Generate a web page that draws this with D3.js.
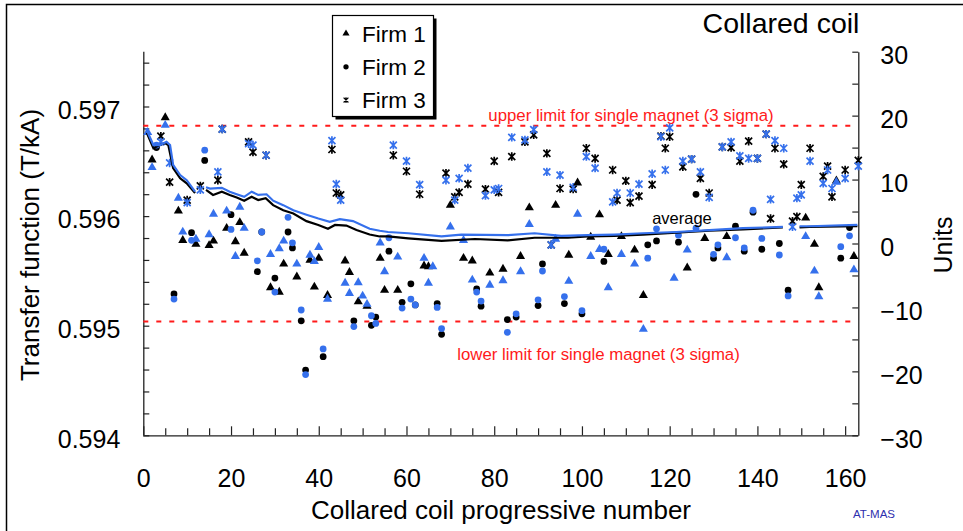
<!DOCTYPE html>
<html><head><meta charset="utf-8">
<script src="https://cdn.jsdelivr.net/npm/d3@7"></script>
<style>
body{margin:0;background:#fff;}
svg{display:block;font-family:"Liberation Sans",Arial,sans-serif;}
</style></head>
<body><svg id="chart" width="963" height="531"></svg>
<script>
// Values in "Units" (right axis); x = collared coil progressive number
const firm1Black = [[2,13.1],[5,19.7],[8,5.1],[9,0.5],[12,-0.1],[15,-0.3],[16,0.4],[19,2.4],[21,0.3],[22,3.3],[23,-1.5],[29,-6.9],[31,-7.6],[32,-3.2],[35,-5.2],[38,-2.6],[39,-6.8],[40,-2.3],[42,-8.1],[46,-2.7],[47,-4.5],[49,-9.1],[51,-9.8],[54,-2.3],[55,-7.3],[58,-7.3],[64,-3.5],[65,-3.6],[70,6.0],[73,-2.3],[75,-2.7],[79,-4.6],[82,-4.0],[86,-2.0],[88,5.6],[94,6.0],[97,-1.8],[99,9.5],[102,1.0],[104,4.5],[106,-1.7],[109,1.1],[112,-1.0],[114,-8.1],[124,-3.8],[128,0.8],[133,1.1],[151,4.0],[153,-0.1],[154,-6.9],[158,9.8],[162,-2.0]];
const firm1Blue = [[1,17.4],[2,11.9],[5,18.5],[8,7.1],[9,1.8],[12,0.7],[15,1.4],[16,4.6],[19,5.1],[21,-2.0],[22,5.7],[23,2.4],[29,-1.7],[31,-0.8],[32,0.4],[35,-3.2],[38,-1.8],[39,-2.8],[40,-0.6],[42,-8.7],[46,-6.2],[47,-7.8],[49,-6.1],[50,-8.2],[51,-9.5],[54,0.1],[55,-4.4],[58,-2.1],[64,-2.3],[65,-6.2],[66,-3.6],[70,2.6],[73,0.5],[75,-5.7],[79,-6.5],[82,-5.8],[86,-4.4],[88,3.0],[94,0.7],[97,-5.9],[99,4.6],[102,-2.0],[104,-0.9],[106,-6.9],[109,-1.7],[112,-3.2],[114,-13.4],[121,-5.4],[124,-1.0],[133,-2.2],[151,1.1],[153,-4.3],[154,-8.3],[158,9.6],[162,-4.1]];
const firm2Black = [[3,15.0],[7,-7.9],[11,1.7],[14,13.0],[20,4.5],[26,-4.4],[27,1.8],[30,-5.4],[33,1.8],[34,-0.7],[36,-12.1],[37,-19.8],[41,-17.7],[48,-12.1],[52,-12.8],[53,-11.5],[56,-1.2],[59,-9.2],[61,-6.3],[62,-9.6],[67,-9.4],[68,-14.2],[76,-7.1],[77,-9.8],[83,-11.9],[85,-11.5],[90,-9.7],[91,-3.2],[96,-9.4],[100,-11.0],[105,-2.8],[115,-0.2],[117,0.4],[122,0.2],[126,7.7],[130,-2.3],[131,-0.7],[135,2.7],[137,-1.2],[139,4.9],[141,-0.9],[145,0.0],[147,-7.3],[159,-2.3],[161,2.5]];
const firm2Blue = [[3,15.4],[7,-8.7],[11,0.5],[14,14.6],[20,2.2],[26,-2.7],[27,1.8],[30,-7.6],[33,4.1],[34,0.1],[36,-10.4],[37,-20.5],[41,-16.5],[48,-13.0],[52,-11.3],[53,-12.5],[56,0.9],[59,-10.1],[61,-8.7],[62,-9.6],[67,-10.0],[68,-13.3],[76,-7.6],[77,-9.0],[83,-13.9],[85,-11.0],[90,-8.8],[91,-4.3],[96,-8.3],[100,-10.5],[105,-0.9],[115,-2.3],[117,2.3],[122,1.3],[126,2.4],[130,-1.7],[131,-0.2],[135,0.9],[137,-0.7],[139,5.2],[141,0.8],[145,-1.8],[147,-8.2],[159,-0.5],[161,1.2]];
const firm3Black = [[4,16.8],[6,9.6],[10,6.8],[13,9.0],[17,9.9],[18,17.9],[24,15.9],[25,14.3],[28,13.8],[43,14.7],[44,7.9],[45,7.6],[57,13.8],[60,11.3],[63,7.7],[69,11.0],[71,7.3],[72,8.0],[74,9.3],[78,8.5],[80,12.9],[81,8.0],[84,13.6],[87,15.9],[89,17.0],[92,14.1],[93,-0.2],[95,8.6],[98,8.5],[101,14.9],[103,13.3],[107,11.5],[108,6.8],[110,9.8],[111,6.4],[113,7.4],[116,9.2],[118,16.8],[119,14.9],[120,16.7],[123,12.0],[125,13.2],[127,10.2],[129,7.9],[132,15.1],[134,15.0],[136,12.9],[138,16.0],[140,13.3],[142,17.1],[143,3.9],[144,14.9],[146,12.4],[148,3.5],[149,4.2],[150,9.2],[152,14.9],[155,10.5],[156,12.1],[157,7.3],[160,11.5],[163,13.0]];
const firm3Blue = [[4,15.9],[6,12.6],[10,6.4],[13,8.4],[17,11.2],[18,17.9],[24,15.6],[25,15.4],[28,13.8],[43,16.1],[44,9.3],[45,6.8],[57,15.4],[60,12.9],[63,9.2],[69,9.9],[71,6.8],[72,10.2],[74,11.8],[78,7.5],[80,8.4],[81,8.6],[84,16.6],[87,16.2],[89,17.8],[92,11.2],[93,-0.2],[95,10.7],[98,8.8],[101,13.6],[103,11.8],[107,6.5],[108,7.9],[111,7.9],[113,9.3],[116,10.9],[118,16.7],[119,11.5],[120,18.1],[123,12.9],[125,13.2],[127,11.2],[129,7.2],[132,15.1],[134,15.9],[136,13.7],[138,13.3],[140,13.3],[142,17.1],[143,6.9],[144,16.1],[146,14.9],[148,2.6],[149,7.1],[150,7.6],[152,12.9],[155,9.4],[156,11.5],[157,8.6],[160,10.2],[163,12.1]];
const averageBlack = [[0.8,17.3],[2.3,14.9],[3.4,15.3],[4.9,15.7],[5.7,15.4],[6.8,11.8],[8.4,10.2],[9.9,9.4],[11.8,7.9],[13,null],[14.3,8.4],[15.9,7.6],[17.9,8.1],[19.7,7.6],[21.3,7.2],[23.0,6.7],[24.7,7.3],[26.2,6.8],[27.9,7.1],[29.6,6.0],[31.9,5.2],[34.2,4.7],[37.2,3.5],[39.9,2.9],[42.1,2.3],[43.7,2.9],[46.3,2.8],[48.6,2.1],[51.6,1.4],[53.9,1.1],[55.8,1.1],[60.4,0.8],[68.0,0.4],[75.6,0.7],[83.1,0.5],[89.2,0.9],[96.8,0.9],[101.4,1.1],[107.4,1.2],[113.9,1.4],[121.5,1.7],[129.1,2.0],[136.7,2.2],[145.8,2.5],[147.5,null],[149.6,2.5],[151.9,2.6],[162.8,2.7]];
const averageBlue = [[0.6,18.0],[2.3,15.4],[3.8,15.4],[5.3,15.9],[6.1,15.4],[6.8,12.3],[8.4,10.7],[9.9,9.9],[11.8,8.1],[13,null],[14.3,8.8],[15.2,8.6],[17.9,8.7],[19.7,8.1],[21.3,7.7],[23.0,7.3],[24.7,8.1],[26.2,7.6],[28.1,7.7],[29.6,6.7],[31.9,6.0],[34.2,5.2],[37.2,4.5],[39.9,3.9],[42.5,3.4],[44.8,3.8],[47.8,3.5],[51.6,2.3],[53.9,2.0],[55.8,1.8],[60.4,1.6],[68.0,1.1],[72.5,1.4],[83.1,1.3],[89.2,1.6],[95.3,1.2],[101.4,1.3],[107.4,1.4],[113.9,1.6],[121.5,1.8],[129.1,2.1],[136.7,2.4],[145.8,2.6],[147.5,null],[149.6,2.7],[151.9,2.7],[162.8,2.9]];
const limits = [{value:18.4,label:"upper limit for single magnet (3 sigma)"},{value:-12.2,label:"lower limit for single magnet (3 sigma)"}];
const leftTicks = d3.range(0,18).map(i => +(0.594 + i*0.0002).toFixed(4));
const leftLabels = [0.594,0.595,0.596,0.597];
const rightTicks = d3.range(-30,31,5);
const rightLabels = [-30,-20,-10,0,10,20,30];
const xTicks = d3.range(0,161,5);
const xLabels = [0,20,40,60,80,100,120,140,160];
const legendItems = ["Firm 1","Firm 2","Firm 3"];

const BLUE = "#3570ec";
const svg = d3.select("#chart");
const L = 143.3, R = 858.3, T = 51.7, B = 435.3;
const x = d3.scaleLinear().domain([0,163]).range([L,R]);
const yL = d3.scaleLinear().domain([0.594,0.5975]).range([B,T]);
const yR = d3.scaleLinear().domain([-30,30]).range([B,T]);

// outer frame (only top and left edges fall inside the picture)
svg.append("rect").attr("x",6.5).attr("y",4.5).attr("width",1000).attr("height",600)
  .attr("fill","none").attr("stroke","#000").attr("stroke-width",1.5);

// axes
const near = (a,b) => Math.abs(a-b) < 1e-7;
const gL = svg.append("g").attr("transform",`translate(${L},0)`)
  .call(d3.axisLeft(yL).tickValues(leftTicks).tickSizeInner(-6).tickSizeOuter(0).tickPadding(23)
    .tickFormat(d => leftLabels.some(v => near(v,d)) ? d3.format(".3f")(d) : ""));
gL.select(".domain").attr("d",`M0.5,${T}V${B}`);
const gR = svg.append("g").attr("transform",`translate(${R},0)`)
  .call(d3.axisRight(yR).tickValues(rightTicks).tickSizeInner(-6).tickSizeOuter(0).tickPadding(22)
    .tickFormat(d => rightLabels.includes(d) ? d3.format("d")(d) : ""));
const gX = svg.append("g").attr("transform",`translate(0,${B})`)
  .call(d3.axisBottom(x).tickValues(xTicks).tickSizeInner(-7).tickSizeOuter(0).tickPadding(34)
    .tickFormat(d => xLabels.includes(d) ? d : ""));
gX.select(".domain").attr("d",`M${L},0.5H${R}`);
gX.selectAll(".tick line").attr("y2", d => xLabels.includes(d) ? -9 : -7);
[gL,gR,gX].forEach(g => {
  g.selectAll(".domain").attr("stroke","#222").attr("stroke-width",1.3);
  g.selectAll(".tick line").attr("stroke","#222").attr("stroke-width",1.2);
  g.selectAll("text").attr("font-size",25).attr("fill","#000")
    .attr("font-family","Liberation Sans, Arial, sans-serif");
});
gL.selectAll("text").attr("dy","0.47em");
gR.selectAll("text").attr("dy","0.47em");
gX.selectAll("text").attr("dy","0.71em");

// limits
limits.forEach((l,i) => {
  svg.append("line").attr("x1",L).attr("x2",R).attr("y1",yR(l.value)).attr("y2",yR(l.value))
    .attr("stroke","#ff1a1a").attr("stroke-width",2).attr("stroke-dasharray","5,8");
});
svg.append("text").attr("x",631).attr("y",121).attr("text-anchor","middle").attr("font-size",16.8)
  .attr("fill","#ff1a1a").text(limits[0].label);
svg.append("text").attr("x",598.5).attr("y",359.5).attr("text-anchor","middle").attr("font-size",16.8)
  .attr("fill","#ff1a1a").text(limits[1].label);

// markers
const star = s => `M${-s},${-s}L${s},${s}M${-s},${s}L${s},${-s}M0,${-s*1.2}V${s*1.2}`;
const tri = d3.symbol().type(d3.symbolTriangle).size(36)();
const circ = d3.symbol().type(d3.symbolCircle).size(36)();
function drawSeries(data, type, color){
  const g = svg.append("g");
  g.selectAll("path").data(data).join("path")
    .attr("transform", d => `translate(${x(d[0])},${yR(d[1])})`)
    .attr("d", type==="tri" ? tri : type==="circ" ? circ : star(3.5))
    .attr("fill", type==="star" ? "none" : color)
    .attr("stroke", type==="star" ? color : "none")
    .attr("stroke-width", 1.7);
}
drawSeries(firm3Black,"star","#000");
drawSeries(firm3Blue,"star",BLUE);
drawSeries(firm1Black,"tri","#000");
drawSeries(firm2Black,"circ","#000");
drawSeries(firm1Blue,"tri",BLUE);
drawSeries(firm2Blue,"circ",BLUE);

// average lines
const line = d3.line().defined(d => d[1] != null).x(d => x(d[0])).y(d => yR(d[1])).curve(d3.curveLinear);
svg.append("path").datum(averageBlack).attr("d",line).attr("fill","none").attr("stroke","#000").attr("stroke-width",2.2);
svg.append("path").datum(averageBlue).attr("d",line).attr("fill","none").attr("stroke",BLUE).attr("stroke-width",2.2);
svg.append("text").attr("x",682).attr("y",224).attr("text-anchor","middle").attr("font-size",16.5).attr("fill","#000").text("average");

// legend
const lg = svg.append("g");
lg.append("rect").attr("x",335.5).attr("y",18.5).attr("width",101).attr("height",101).attr("fill","#000");
lg.append("rect").attr("x",332.5).attr("y",15.5).attr("width",101).attr("height",101).attr("fill","#fff").attr("stroke","#000").attr("stroke-width",1.2);
const smallTri = d3.symbol().type(d3.symbolTriangle).size(22)();
const smallCirc = d3.symbol().type(d3.symbolCircle).size(22)();
legendItems.forEach((t,i) => {
  const cy = 33.5 + i*33.3;
  lg.append("path").attr("transform",`translate(346,${cy})`)
    .attr("d", i===0 ? smallTri : i===1 ? smallCirc : star(2.4))
    .attr("fill", i===2 ? "none" : "#000").attr("stroke", i===2 ? "#000" : "none").attr("stroke-width",1.2);
  lg.append("text").attr("x",362).attr("y",cy+8).attr("font-size",22.5).attr("fill","#000").text(t);
});

// titles
svg.append("text").attr("x",781).attr("y",33).attr("text-anchor","middle").attr("font-size",28.5).attr("fill","#000").text("Collared coil");
svg.append("text").attr("x",501).attr("y",519).attr("text-anchor","middle").attr("font-size",26).attr("fill","#000").text("Collared coil progressive number");
svg.append("text").attr("transform","translate(30,245) rotate(-90)").attr("dy","0.35em").attr("text-anchor","middle").attr("font-size",26).attr("fill","#000").text("Transfer function (T/kA)");
svg.append("text").attr("transform","translate(943,245) rotate(-90)").attr("dy","0.35em").attr("text-anchor","middle").attr("font-size",25).attr("fill","#000").text("Units");
svg.append("text").attr("x",874).attr("y",518).attr("text-anchor","middle").attr("font-size",11.5).attr("fill","#2f2fae").text("AT-MAS");
</script></body></html>
